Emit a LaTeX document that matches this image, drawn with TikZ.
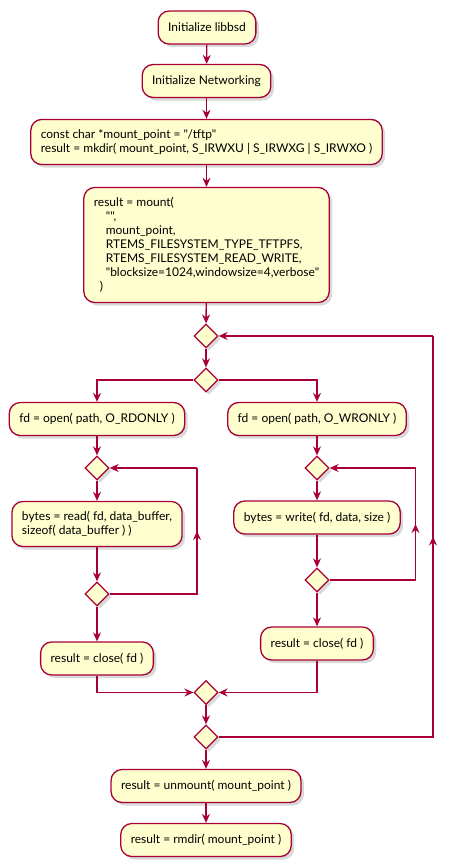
\documentclass[tikz,border=0pt]{standalone}
\usepackage{fontspec}
\newfontfamily\umlfont{Lato}
\usetikzlibrary{arrows.meta,shapes.geometric,shadows,calc}
\definecolor{umlred}{HTML}{A80036}
\definecolor{umlfill}{HTML}{FEFECE}
\tikzset{
    act/.style={draw=umlred, fill=umlfill, line width=1.3pt, rounded corners=11pt,
        align=left, inner xsep=10pt, inner ysep=10pt, minimum height=33pt,
        font=\umlfont\fontsize{12}{14}\selectfont,
        drop shadow={shadow xshift=3pt, shadow yshift=-3pt, opacity=0.25, fill=black!60}},
    gate/.style={diamond, draw=umlred, fill=umlfill, line width=1.3pt, inner sep=0pt,
        minimum width=24pt, minimum height=24pt,
        drop shadow={shadow xshift=3pt, shadow yshift=-3pt, opacity=0.25, fill=black!60}},
    wire/.style={draw=umlred, line width=1.3pt},
    flow/.style={wire, -{Stealth[length=9pt, width=8pt, inset=3pt]}},
}
\begin{document}
\begin{tikzpicture}[x=1pt, y=-1pt]
    \useasboundingbox (0,0) rectangle (458,867);

    % Setup
    \node[act] (libbsd) at (207,27.5) {Initialize libbsd};
    \node[act] (net) at (206.5,81) {Initialize Networking};
    \node[act] (mkdir) at (206.5,142) {const char *mount\_point = "/tftp"\\result = mkdir( mount\_point, S\_IRWXU | S\_IRWXG | S\_IRWXO )};
    \node[act] (mount) at (206.5,245) {result = mount(\\
        \hspace*{12pt}"",\\
        \hspace*{12pt}mount\_point,\\
        \hspace*{12pt}RTEMS\_FILESYSTEM\_TYPE\_TFTPFS,\\
        \hspace*{12pt}RTEMS\_FILESYSTEM\_READ\_WRITE,\\
        \hspace*{12pt}"blocksize=1024,windowsize=4,verbose"\\
        \hspace*{6pt})};
    \node[gate] (loopin) at (206,336) {};
    \node[gate] (fork) at (206,380) {};

    % Read branch
    \node[act] (rdopen) at (97,419) {fd = open( path, O\_RDONLY )};
    \node[gate] (rdloop) at (97,468) {};
    \node[act] (rdread) at (97,524) {bytes = read( fd, data\_buffer,\\sizeof( data\_buffer ) )};
    \node[gate] (rdend) at (97,594) {};
    \node[act] (rdclose) at (97,658.5) {result = close( fd )};

    % Write branch
    \node[act] (wropen) at (317,419) {fd = open( path, O\_WRONLY )};
    \node[gate] (wrloop) at (317,468) {};
    \node[act] (wrwrite) at (317,517.5) {bytes = write( fd, data, size )};
    \node[gate] (wrend) at (317,580) {};
    \node[act] (wrclose) at (317,643.5) {result = close( fd )};

    % Teardown
    \node[gate] (merge) at (206,692.5) {};
    \node[gate] (loopend) at (206,737) {};
    \node[act] (unmount) at (206,786) {result = unmount( mount\_point )};
    \node[act] (rmdir) at (206,840) {result = rmdir( mount\_point )};

    % Straight flow
    \foreach \a/\b in {libbsd/net, net/mkdir, mkdir/mount, mount/loopin, loopin/fork,
        rdopen/rdloop, rdloop/rdread, rdread/rdend, rdend/rdclose,
        wropen/wrloop, wrloop/wrwrite, wrwrite/wrend, wrend/wrclose,
        merge/loopend, loopend/unmount, unmount/rmdir}
        \draw[flow] (\a) -- (\b);

    % Fork and merge
    \draw[flow] (fork.west) -| (rdopen.north);
    \draw[flow] (fork.east) -| (wropen.north);
    \draw[flow] (rdclose.south) |- (merge.west);
    \draw[flow] (wrclose.south) |- (merge.east);

    % Loops back
    \foreach \e/\s/\x in {rdend/rdloop/197, wrend/wrloop/415.5, loopend/loopin/433} {
        \coordinate (col) at (\x,0);
        \draw[wire] (\e.east) -- (\e.east -| col) -- (\s.east -| col);
        \draw[flow] (\s.east -| col) -- (\s.east);
        \draw[flow] (\e.east -| col) -- ($(\e.east -| col)!0.5!(\s.east -| col)$);
    }
\end{tikzpicture}
\end{document}
